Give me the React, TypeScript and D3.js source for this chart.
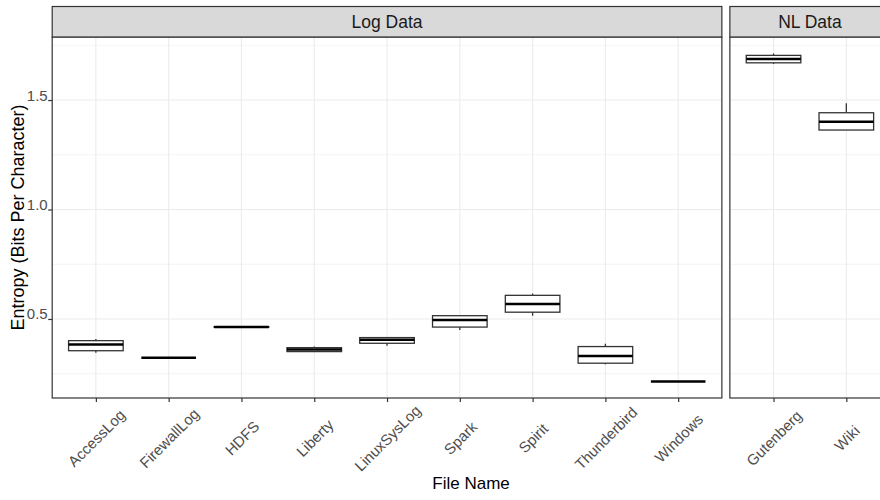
import * as d3 from "d3";
import React, { useEffect, useRef } from "react";

// categories and facet groups
const logFiles = ["AccessLog", "FirewallLog", "HDFS", "Liberty", "LinuxSysLog", "Spark", "Spirit", "Thunderbird", "Windows"];
const nlFiles = ["Gutenberg", "Wiki"];
const panelNames = ["Log Data", "NL Data"];

// box stats per file, order = logFiles then nlFiles
const whiskerLow = [0.346, 0.323, 0.461, 0.349, 0.378, 0.45, 0.515, 0.293, 0.214, 1.665, 1.363];
const q1 = [0.355, 0.323, 0.462, 0.351, 0.389, 0.463, 0.531, 0.298, 0.214, 1.67, 1.363];
const medians = [0.383, 0.323, 0.463, 0.361, 0.405, 0.495, 0.568, 0.331, 0.214, 1.687, 1.401];
const q3 = [0.401, 0.323, 0.465, 0.369, 0.415, 0.515, 0.608, 0.374, 0.214, 1.704, 1.442];
const whiskerHigh = [0.408, 0.323, 0.466, 0.374, 0.418, 0.516, 0.616, 0.387, 0.214, 1.713, 1.485];

const yBreaks = [0.5, 1.0, 1.5];
const yMinor = [0.25, 0.75, 1.25, 1.75];

export default function App() {
  const svgRef = useRef<SVGSVGElement>(null);

  useEffect(() => {
    const width = 880;
    const height = 500;
    const svg = d3.select(svgRef.current).attr("width", width).attr("height", height);
    svg.selectAll("*").remove();

    const font = "'Liberation Sans', Arial, sans-serif";
    const left = 52.2;
    const right = 890;
    const gap = 8;
    const top = 37;
    const bottom = 398;
    const stripTop = 6.5;

    // one unit per category, 0.6 padding each side (ggplot style)
    const unit = (right - left - gap) / (logFiles.length + nlFiles.length + 2.4 - 2);
    const logW = unit * (logFiles.length - 1 + 1.2);
    const panels = [
      { name: panelNames[0], files: logFiles, x0: left, x1: left + logW, offset: 0 },
      { name: panelNames[1], files: nlFiles, x0: left + logW + gap, x1: right, offset: logFiles.length },
    ];

    const all = whiskerLow.concat(whiskerHigh);
    const lo = d3.min(all)!;
    const hi = d3.max(all)!;
    const pad = (hi - lo) * 0.05;
    const y = d3.scaleLinear().domain([lo - pad, hi + pad]).range([bottom, top]);

    panels.forEach((p) => {
      const x = d3.scalePoint<string>().domain(p.files).range([p.x0, p.x1]).padding(0.6);
      const g = svg.append("g");

      g.append("rect").attr("x", p.x0).attr("y", top).attr("width", p.x1 - p.x0).attr("height", bottom - top).attr("fill", "white");

      // grid
      g.selectAll(".minor").data(yMinor).join("line")
        .attr("x1", p.x0).attr("x2", p.x1).attr("y1", (d) => y(d)).attr("y2", (d) => y(d))
        .attr("stroke", "#EBEBEB").attr("stroke-width", 0.6);
      g.selectAll(".major").data(yBreaks).join("line")
        .attr("x1", p.x0).attr("x2", p.x1).attr("y1", (d) => y(d)).attr("y2", (d) => y(d))
        .attr("stroke", "#EBEBEB").attr("stroke-width", 1.1);
      g.selectAll(".vmajor").data(p.files).join("line")
        .attr("x1", (d) => x(d)!).attr("x2", (d) => x(d)!).attr("y1", top).attr("y2", bottom)
        .attr("stroke", "#EBEBEB").attr("stroke-width", 1.1);

      // boxes
      const bw = unit * 0.75;
      p.files.forEach((f, j) => {
        const i = p.offset + j;
        const cx = x(f)!;
        const bx = g.append("g");
        bx.append("line").attr("x1", cx).attr("x2", cx).attr("y1", y(whiskerHigh[i])).attr("y2", y(q3[i]))
          .attr("stroke", "#333333").attr("stroke-width", 1.3);
        bx.append("line").attr("x1", cx).attr("x2", cx).attr("y1", y(q1[i])).attr("y2", y(whiskerLow[i]))
          .attr("stroke", "#333333").attr("stroke-width", 1.3);
        bx.append("rect").attr("x", cx - bw / 2).attr("y", y(q3[i])).attr("width", bw)
          .attr("height", y(q1[i]) - y(q3[i])).attr("fill", "white")
          .attr("stroke", "#333333").attr("stroke-width", 1.3);
        bx.append("line").attr("x1", cx - bw / 2).attr("x2", cx + bw / 2).attr("y1", y(medians[i])).attr("y2", y(medians[i]))
          .attr("stroke", "#000").attr("stroke-width", 2.5);
      });

      g.append("rect").attr("x", p.x0).attr("y", top).attr("width", p.x1 - p.x0).attr("height", bottom - top)
        .attr("fill", "none").attr("stroke", "#333333").attr("stroke-width", 1.2);

      // strip
      g.append("rect").attr("x", p.x0).attr("y", stripTop).attr("width", p.x1 - p.x0).attr("height", top - stripTop)
        .attr("fill", "#D9D9D9").attr("stroke", "#333333").attr("stroke-width", 1.2);
      g.append("text").attr("x", (p.x0 + p.x1) / 2).attr("y", (stripTop + top) / 2)
        .attr("text-anchor", "middle").attr("dominant-baseline", "central")
        .style("font-family", font).style("font-size", "17.5px").attr("fill", "#1A1A1A").text(p.name);

      // x axis
      const xAxis = d3.axisBottom(x).tickSize(4).tickSizeOuter(0).tickFormat(() => "");
      const ax = g.append("g").attr("transform", `translate(0,${bottom})`).call(xAxis);
      ax.select(".domain").remove();
      ax.selectAll(".tick line").attr("stroke", "#333333").attr("stroke-width", 1.2);
      g.selectAll(".xlab").data(p.files).join("text")
        .attr("transform", (d) => `translate(${x(d)! + 0.5},438) rotate(-45)`)
        .attr("text-anchor", "middle").attr("dominant-baseline", "central")
        .style("font-family", font).style("font-size", "15px").attr("fill", "#4D4D4D").text((d) => d);
    });

    // y axis
    const yAxis = d3.axisLeft(y).tickValues(yBreaks).tickSize(4).tickFormat(() => "");
    const ay = svg.append("g").attr("transform", `translate(${left},0)`).call(yAxis);
    ay.select(".domain").remove();
    ay.selectAll(".tick line").attr("stroke", "#333333").attr("stroke-width", 1.2);
    svg.selectAll(".ylab").data(yBreaks).join("text")
      .attr("x", left - 4.5).attr("y", (d) => y(d) + 0.5)
      .attr("text-anchor", "end")
      .style("font-family", font).style("font-size", "15px").attr("fill", "#4D4D4D")
      .text((d) => d3.format(".1f")(d));

    // titles
    svg.append("text").attr("transform", `translate(18,${(top + bottom) / 2}) rotate(-90)`)
      .attr("text-anchor", "middle").attr("dominant-baseline", "central")
      .style("font-family", font).style("font-size", "18px").attr("fill", "#000").text("Entropy (Bits Per Character)");
    svg.append("text").attr("x", (left + right) / 2).attr("y", 483)
      .attr("text-anchor", "middle").attr("dominant-baseline", "central")
      .style("font-family", font).style("font-size", "17px").attr("fill", "#000").text("File Name");
  }, []);

  return <svg ref={svgRef} style={{ position: "absolute", left: 0, top: 0, display: "block", background: "white" }}></svg>;
}
